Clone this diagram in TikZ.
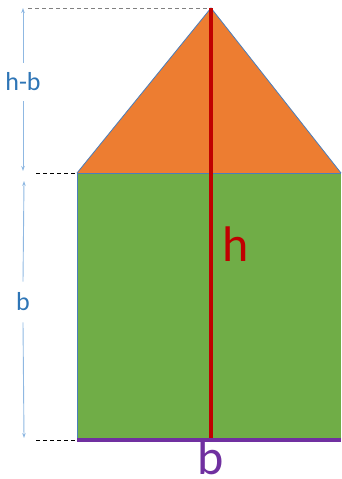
\documentclass[tikz,border=0pt]{standalone}
\usepackage{fontspec}
\setmainfont{Carlito}
\usetikzlibrary{arrows.meta}
\definecolor{roof}{HTML}{ED7D31}
\definecolor{wall}{HTML}{70AD47}
\definecolor{hred}{HTML}{C00000}
\definecolor{bpurple}{HTML}{7030A0}
\definecolor{dimblue}{HTML}{2E75B6}
\definecolor{arrowblue}{HTML}{8FB8E2}
\definecolor{edgeblue}{HTML}{4A7EBB}
\tikzset{
  outline/.style={draw=edgeblue, line width=0.8pt},
  dimarrow/.style={draw=arrowblue, line width=0.9pt, -{Stealth[length=5pt,width=3.5pt]}},
  guide/.style={dashed, line width=0.7pt, dash pattern=on 4pt off 3pt},
  dimlabel/.style={text=dimblue, font=\fontsize{26}{28}\selectfont, inner xsep=0pt},
  biglabel/.style={font=\fontsize{50}{52}\selectfont, inner sep=0pt}
}
\begin{document}
\begin{tikzpicture}[x=1pt,y=-1pt]
\useasboundingbox (0,0) rectangle (341,479);
\coordinate (apex) at (211,8);
\coordinate (tl) at (77,173);
\coordinate (tr) at (341,173);
\coordinate (bl) at (77,440);
\coordinate (br) at (341,440);
\coordinate (hbase) at (211,440);
\coordinate (g1) at (28,8);
\coordinate (g2) at (36,173);
\coordinate (g3) at (36,440);
\coordinate (a1) at (23,8);
\coordinate (a2) at (23,171);
\coordinate (a3) at (24,181);
\coordinate (a4) at (24,438);
% wall
\fill[wall] (tl) rectangle (br);
\draw[outline] (bl) -- (tl);
% roof
\fill[roof] (tl) -- (apex) -- (tr) -- cycle;
\draw[outline] (tl) -- (apex) -- (tr);
\draw[draw=edgeblue, line width=0.8pt] (tl) -- (tr);
% guides
\draw[guide, gray] (g1) -- (apex);
\draw[guide, black] (g2) -- (tl);
\draw[guide, black] (g3) -- (bl);
% height and base
\draw[hred, line width=4pt] (apex) -- (hbase);
\draw[bpurple, line width=4pt] (bl) -- (br);
% labels
\node[biglabel, text=hred] (hlab) at (236,244) {h};
\node[biglabel, text=bpurple] (blab) at (211,457) {b};
\node[dimlabel, inner ysep=10pt] (hb) at (23,82) {h-b};
\node[dimlabel, inner ysep=11pt] (bl2) at (23,302) {b};
% dimension arrows
\draw[dimarrow] (hb.north) -- (a1);
\draw[dimarrow] (hb.south) -- (a2);
\draw[dimarrow] (bl2.north) -- (a3);
\draw[dimarrow] (bl2.south) -- (a4);
\end{tikzpicture}
\end{document}
